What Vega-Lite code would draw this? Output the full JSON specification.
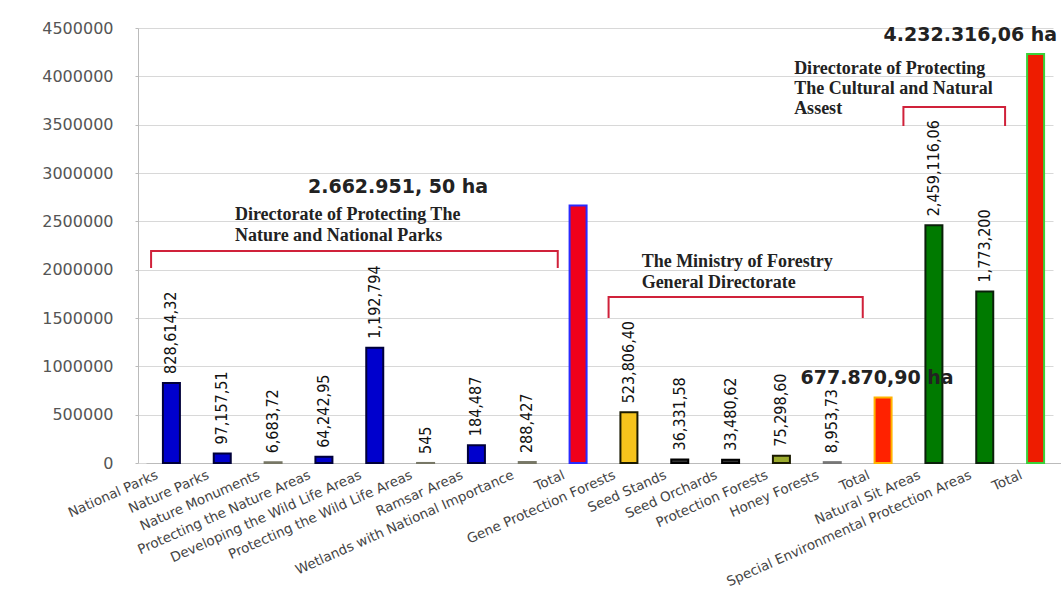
{
  "$schema": "https://vega.github.io/schema/vega-lite/v6.json",
  "width": 915,
  "height": 435,
  "autosize": {"type": "none"},
  "padding": {"left": 146, "top": 28, "right": 0, "bottom": 149},
  "background": "white",
  "config": {
    "view": {"stroke": null},
    "axisX": {
      "labelAngle": -24, "labelAlign": "right", "labelBaseline": "middle",
      "labelFont": "DejaVu Sans", "labelFontSize": 13.5, "labelColor": "#444",
      "ticks": false, "labelPadding": 11, "labelOffset": -14,
      "domainColor": "#bbbbbb", "labelLimit": 0, "labelOverlap": false, "grid": false
    },
    "axisY": {
      "labelFont": "DejaVu Sans", "labelFontSize": 16, "labelColor": "#555",
      "offset": 8, "tickSize": 3, "tickColor": "#bbbbbb", "domainColor": "#bbbbbb",
      "labelPadding": 22, "grid": true, "gridColor": "#d8d8d8"
    }
  },
  "datasets": {
    "bars": [
      {"cat": "National Parks", "value": 828614.32, "lbl": "828,614,32", "cls": "blue"},
      {"cat": "Nature Parks", "value": 97157.51, "lbl": "97,157,51", "cls": "blue"},
      {"cat": "Nature Monuments", "value": 6683.72, "lbl": "6,683,72", "cls": "minor"},
      {"cat": "Protecting the Nature Areas", "value": 64242.95, "lbl": "64,242,95", "cls": "blue"},
      {"cat": "Developing the Wild Life Areas", "value": 1192794, "lbl": "1,192,794", "cls": "blue"},
      {"cat": "Protecting the Wild Life Areas", "value": 545, "lbl": "545", "cls": "minor"},
      {"cat": "Ramsar Areas", "value": 184487, "lbl": "184,487", "cls": "blue"},
      {"cat": "Wetlands with National Importance", "value": 10000, "lbl": "288,427", "cls": "minor"},
      {"cat": "Total#1", "value": 2662951.5, "lbl": "", "cls": "total1"},
      {"cat": "Gene Protection Forests", "value": 523806.4, "lbl": "523,806,40", "cls": "gene"},
      {"cat": "Seed Stands", "value": 36331.58, "lbl": "36,331,58", "cls": "dark"},
      {"cat": "Seed Orchards", "value": 33480.62, "lbl": "33,480,62", "cls": "dark"},
      {"cat": "Protection Forests", "value": 75298.6, "lbl": "75,298,60", "cls": "olive"},
      {"cat": "Honey Forests", "value": 8953.73, "lbl": "8,953,73", "cls": "gray"},
      {"cat": "Total#2", "value": 677870.9, "lbl": "", "cls": "total2"},
      {"cat": "Natural Sit Areas", "value": 2459116.06, "lbl": "2,459,116,06", "cls": "green"},
      {"cat": "Special Environmental Protection Areas", "value": 1773200, "lbl": "1,773,200", "cls": "green"},
      {"cat": "Total#3", "value": 4232316.06, "lbl": "", "cls": "total3"}
    ],
    "totals": [
      {"cat": "Total#1", "value": 2662951.5, "text": "2.662.951, 50 ha", "t": 1},
      {"cat": "Total#2", "value": 677870.9, "text": "677.870,90 ha", "t": 2},
      {"cat": "Total#3", "value": 4232316.06, "text": "4.232.316,06 ha", "t": 3}
    ],
    "groups": [
      {"cat": "Nature Parks", "y": 2513800, "text": "Directorate of Protecting The"},
      {"cat": "Nature Parks", "y": 2296600, "text": "Nature  and  National Parks"},
      {"cat": "Gene Protection Forests", "y": 2027600, "text": "The Ministry of Forestry"},
      {"cat": "Gene Protection Forests", "y": 1810300, "text": "General Directorate"},
      {"cat": "Protection Forests", "y": 4024100, "text": "Directorate of Protecting"},
      {"cat": "Protection Forests", "y": 3817200, "text": "The Cultural and Natural"},
      {"cat": "Protection Forests", "y": 3610300, "text": "Assest"}
    ],
    "brackets": [
      {"b": "b1", "o": 1, "cat": "National Parks", "y": 2017200},
      {"b": "b1", "o": 2, "cat": "National Parks", "y": 2193100},
      {"b": "b1", "o": 3, "cat": "Total#1", "y": 2193100},
      {"b": "b1", "o": 4, "cat": "Total#1", "y": 2017200},
      {"b": "b2", "o": 1, "cat": "Gene Protection Forests", "y": 1500000},
      {"b": "b2", "o": 2, "cat": "Gene Protection Forests", "y": 1717200},
      {"b": "b2", "o": 3, "cat": "Total#2", "y": 1717200},
      {"b": "b2", "o": 4, "cat": "Total#2", "y": 1500000},
      {"b": "b3", "o": 1, "cat": "Total#2", "y": 3486200},
      {"b": "b3", "o": 2, "cat": "Total#2", "y": 3682800},
      {"b": "b3", "o": 3, "cat": "Special Environmental Protection Areas", "y": 3682800},
      {"b": "b3", "o": 4, "cat": "Special Environmental Protection Areas", "y": 3486200}
    ]
  },
  "layer": [
    {
      "data": {"name": "bars"},
      "mark": {"type": "bar", "size": 17, "strokeWidth": 2},
      "encoding": {
        "x": {
          "field": "cat", "type": "nominal", "title": null,
          "scale": {
            "domain": ["National Parks", "Nature Parks", "Nature Monuments", "Protecting the Nature Areas", "Developing the Wild Life Areas", "Protecting the Wild Life Areas", "Ramsar Areas", "Wetlands with National Importance", "Total#1", "Gene Protection Forests", "Seed Stands", "Seed Orchards", "Protection Forests", "Honey Forests", "Total#2", "Natural Sit Areas", "Special Environmental Protection Areas", "Total#3"],
            "paddingInner": 0, "paddingOuter": 0
          },
          "axis": {"labelExpr": "split(datum.label, '#')[0]"}
        },
        "y": {
          "field": "value", "type": "quantitative", "title": null,
          "scale": {"domain": [0, 4500000], "nice": false},
          "axis": {"values": [0, 500000, 1000000, 1500000, 2000000, 2500000, 3000000, 3500000, 4000000, 4500000], "format": "d"}
        },
        "fill": {
          "field": "cls", "type": "nominal", "legend": null,
          "scale": {
            "domain": ["blue", "minor", "total1", "gene", "dark", "olive", "gray", "total2", "green", "total3"],
            "range": ["#0000cd", "#c6d64a", "#f0001a", "#f5c31c", "#333333", "#9bab2e", "#999999", "#ff2200", "#007a00", "#ee1c00"]
          }
        },
        "stroke": {
          "field": "cls", "type": "nominal", "legend": null,
          "scale": {
            "domain": ["blue", "minor", "total1", "gene", "dark", "olive", "gray", "total2", "green", "total3"],
            "range": ["#00003a", "#777766", "#2a2aff", "#1a1a00", "#000000", "#1a1a00", "#777777", "#ffb300", "#0b200b", "#3ad23a"]
          }
        }
      }
    },
    {
      "data": {"name": "bars"},
      "transform": [{"filter": "datum.lbl != ''"}],
      "mark": {"type": "text", "angle": -90, "align": "left", "baseline": "middle", "dx": 9, "font": "DejaVu Sans Condensed, Liberation Sans Narrow, sans-serif", "fontSize": 16, "fill": "#111111"},
      "encoding": {
        "x": {"field": "cat", "type": "nominal", "title": null},
        "y": {"field": "value", "type": "quantitative", "title": null},
        "text": {"field": "lbl"}
      }
    },
    {
      "data": {"name": "totals"},
      "transform": [{"filter": "datum.t == 1"}],
      "mark": {"type": "text", "align": "center", "baseline": "alphabetic", "dx": -180, "dy": -13, "font": "DejaVu Sans", "fontWeight": "bold", "fontSize": 19, "fill": "#222222"},
      "encoding": {
        "x": {"field": "cat", "type": "nominal", "title": null},
        "y": {"field": "value", "type": "quantitative", "title": null},
        "text": {"field": "text"}
      }
    },
    {
      "data": {"name": "totals"},
      "transform": [{"filter": "datum.t == 2"}],
      "mark": {"type": "text", "align": "center", "baseline": "alphabetic", "dx": -6, "dy": -13, "font": "DejaVu Sans", "fontWeight": "bold", "fontSize": 19, "fill": "#222222"},
      "encoding": {
        "x": {"field": "cat", "type": "nominal", "title": null},
        "y": {"field": "value", "type": "quantitative", "title": null},
        "text": {"field": "text"}
      }
    },
    {
      "data": {"name": "totals"},
      "transform": [{"filter": "datum.t == 3"}],
      "mark": {"type": "text", "align": "left", "baseline": "alphabetic", "dx": -152, "dy": -13, "font": "DejaVu Sans", "fontWeight": "bold", "fontSize": 19, "fill": "#222222"},
      "encoding": {
        "x": {"field": "cat", "type": "nominal", "title": null},
        "y": {"field": "value", "type": "quantitative", "title": null},
        "text": {"field": "text"}
      }
    },
    {
      "data": {"name": "groups"},
      "mark": {"type": "text", "align": "left", "baseline": "alphabetic", "font": "Liberation Serif", "fontWeight": "bold", "fontSize": 18, "fill": "#222222"},
      "encoding": {
        "x": {"field": "cat", "type": "nominal", "title": null, "bandPosition": 0.75},
        "y": {"field": "y", "type": "quantitative", "title": null},
        "text": {"field": "text"}
      }
    },
    {
      "data": {"name": "brackets"},
      "transform": [{"filter": "datum.b != 'b3'"}],
      "mark": {"type": "line", "stroke": "#d0213a", "strokeWidth": 2},
      "encoding": {
        "x": {"field": "cat", "type": "nominal", "title": null, "bandPosition": 0.1},
        "y": {"field": "y", "type": "quantitative", "title": null},
        "detail": {"field": "b"},
        "order": {"field": "o"}
      }
    },
    {
      "data": {"name": "brackets"},
      "transform": [{"filter": "datum.b == 'b3'"}],
      "mark": {"type": "line", "stroke": "#d0213a", "strokeWidth": 2},
      "encoding": {
        "x": {"field": "cat", "type": "nominal", "title": null, "bandPosition": 0.9},
        "y": {"field": "y", "type": "quantitative", "title": null},
        "detail": {"field": "b"},
        "order": {"field": "o"}
      }
    }
  ]
}
